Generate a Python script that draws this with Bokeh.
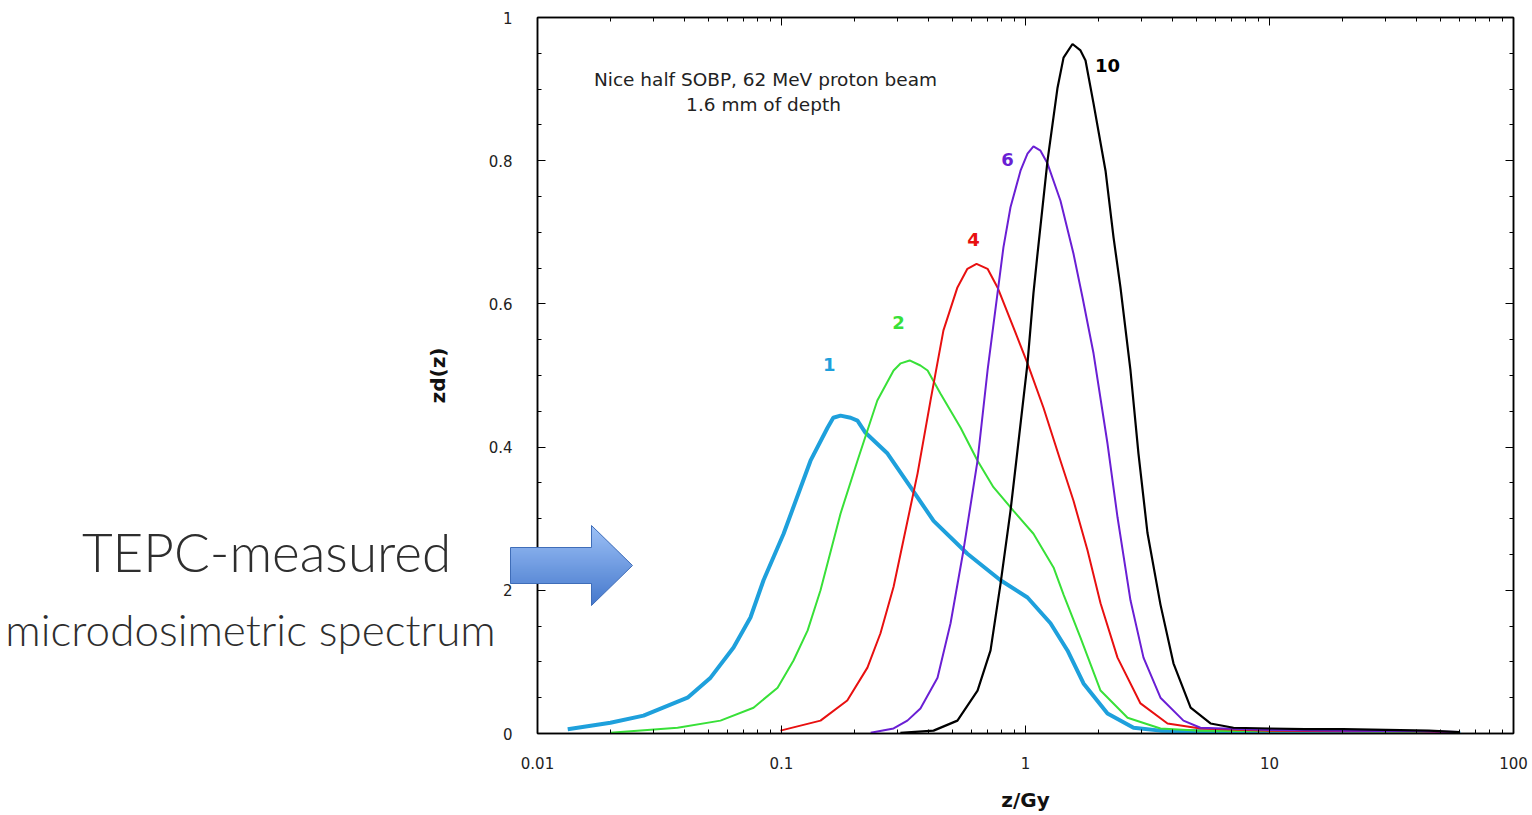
from bokeh.plotting import figure
from bokeh.models import Range1d, LogAxis, LinearAxis, FixedTicker, Label, CustomJSTickFormatter
from bokeh.core.properties import value
from bokeh.embed import file_html
from bokeh.resources import INLINE

# --- microdosimetric spectra zd(z) vs specific energy z (Gy) ---
blue_z = [0.0133, 0.0199, 0.0272, 0.0412, 0.0512, 0.0636, 0.0746, 0.0844, 0.102, 0.1315,
          0.1544, 0.163, 0.1745, 0.192, 0.2048, 0.221, 0.272, 0.338, 0.420, 0.578, 0.790,
          1.019, 1.266, 1.486, 1.729, 2.168, 2.772, 3.574, 5.21, 8.36, 13.4, 21.5, 34.4, 60.6]
blue_y = [0.006, 0.015, 0.025, 0.050, 0.078, 0.120, 0.162, 0.214, 0.279, 0.381,
          0.427, 0.441, 0.444, 0.441, 0.437, 0.420, 0.391, 0.344, 0.297, 0.251, 0.214,
          0.190, 0.154, 0.116, 0.070, 0.028, 0.008, 0.004, 0.003, 0.003, 0.003, 0.002, 0.002, 0.0]

green_z = [0.0199, 0.0375, 0.0562, 0.0768, 0.0964, 0.112, 0.128, 0.1445, 0.1745, 0.2048,
           0.247, 0.288, 0.308, 0.335, 0.371, 0.397, 0.448, 0.542, 0.636, 0.739, 0.893,
           1.078, 1.303, 1.432, 1.68, 2.03, 2.62, 3.574, 5.21, 10.0, 20.0, 40.0, 60.0]
green_y = [0.001, 0.008, 0.018, 0.036, 0.064, 0.102, 0.144, 0.200, 0.307, 0.381,
           0.465, 0.507, 0.517, 0.521, 0.514, 0.507, 0.475, 0.427, 0.381, 0.344, 0.311,
           0.279, 0.232, 0.194, 0.134, 0.060, 0.022, 0.007, 0.004, 0.003, 0.003, 0.002, 0.001]

red_z = [0.099, 0.1445, 0.186, 0.225, 0.2545, 0.288, 0.316, 0.361, 0.408, 0.461, 0.526,
         0.578, 0.630, 0.699, 0.768, 0.893, 1.019, 1.185, 1.391, 1.573, 1.795, 2.03, 2.383,
         2.96, 3.82, 5.21, 10.0, 20.0, 40.0, 60.0]
red_y = [0.004, 0.018, 0.046, 0.092, 0.140, 0.205, 0.270, 0.363, 0.465, 0.563, 0.623,
         0.649, 0.656, 0.649, 0.623, 0.567, 0.517, 0.455, 0.381, 0.325, 0.256, 0.182, 0.106,
         0.042, 0.014, 0.007, 0.004, 0.003, 0.003, 0.001]

purple_z = [0.232, 0.288, 0.328, 0.371, 0.436, 0.493, 0.557, 0.636, 0.699, 0.768, 0.812,
            0.868, 0.954, 1.019, 1.078, 1.152, 1.231, 1.391, 1.573, 1.713, 1.90, 2.168, 2.383,
            2.693, 3.045, 3.574, 4.44, 5.21, 10.0, 20.0, 40.0, 60.0]
purple_y = [0.001, 0.007, 0.018, 0.035, 0.078, 0.154, 0.256, 0.381, 0.507, 0.615, 0.679,
            0.735, 0.786, 0.810, 0.820, 0.814, 0.796, 0.744, 0.670, 0.609, 0.531, 0.405, 0.302,
            0.186, 0.106, 0.050, 0.018, 0.008, 0.005, 0.004, 0.003, 0.002]

black_z = [0.307, 0.420, 0.526, 0.636, 0.719, 0.790, 0.868, 0.927, 1.019, 1.078, 1.12,
           1.231, 1.353, 1.432, 1.558, 1.68, 1.762, 1.90, 2.128, 2.295, 2.45, 2.693, 2.904,
           3.162, 3.574, 4.04, 4.75, 5.73, 7.12, 10.0, 14.0, 20.0, 30.0, 45.0, 60.0]
black_y = [0.001, 0.004, 0.018, 0.060, 0.116, 0.209, 0.311, 0.395, 0.517, 0.615, 0.670,
           0.800, 0.902, 0.944, 0.963, 0.954, 0.940, 0.880, 0.786, 0.693, 0.623, 0.507, 0.391,
           0.280, 0.180, 0.098, 0.036, 0.014, 0.008, 0.007, 0.006, 0.006, 0.005, 0.004, 0.002]

series = [
    (blue_z, blue_y, "#1ea0dc", 4.0),
    (green_z, green_y, "#38e038", 2.0),
    (red_z, red_y, "#e81010", 2.0),
    (purple_z, purple_y, "#6a1fd4", 2.0),
    (black_z, black_y, "#000000", 2.2),
]

# curve tags
tag_text = ["1", "2", "4", "6", "10"]
tag_z = [0.157, 0.302, 0.612, 0.844, 2.168]
tag_y = [0.515, 0.574, 0.690, 0.802, 0.933]
tag_color = ["#1ea0dc", "#38e038", "#e81010", "#6a1fd4", "#000000"]

x_major_ticks = [0.01, 0.1, 1, 10, 100]
x_tick_labels = ["0.01", "0.1", "1", "10", "100"]
x_minor_ticks = [m * d for d in (0.01, 0.1, 1, 10) for m in range(2, 10)]

y_major_ticks = [0.0, 0.2, 0.4, 0.6, 0.8, 1.0]
y_tick_labels = ["0", "2", "0.4", "0.6", "0.8", "1"]
y_minor_ticks = [0.05, 0.1, 0.15, 0.25, 0.3, 0.35, 0.45, 0.5, 0.55,
                 0.65, 0.7, 0.75, 0.85, 0.9, 0.95]

FONT = "DejaVu Sans"
W, H = 1532, 815

p = figure(width=W, height=H, x_axis_type="log",
           x_range=Range1d(0.01, 100), y_range=Range1d(0, 1),
           output_backend="svg", toolbar_location=None,
           min_border_left=537, min_border_right=19,
           min_border_top=17, min_border_bottom=82)
p.xgrid.visible = False
p.ygrid.visible = False
p.outline_line_color = "black"
p.outline_line_width = 1.5

for zs, ys, col, w in series:
    p.line(zs, ys, line_color=col, line_width=w)

p.text(x=tag_z, y=tag_y, text=tag_text, text_color=tag_color,
       text_font=value(FONT), text_font_style="bold", text_font_size="18px",
       text_align="center", text_baseline="middle")


def style_axis(ax, show_labels=True):
    ax.axis_line_color = "black"
    ax.axis_line_width = 1.5
    ax.major_tick_line_color = "black"
    ax.minor_tick_line_color = "black"
    ax.major_tick_in = 8
    ax.major_tick_out = 0
    ax.minor_tick_in = 4
    ax.minor_tick_out = 0
    ax.major_label_text_font = FONT
    ax.major_label_text_font_size = "15px"
    ax.major_label_text_color = "#222222"
    if not show_labels:
        ax.formatter = CustomJSTickFormatter(code="return ''")
        ax.major_label_text_font_size = "1px"
        ax.major_label_standoff = 0


xax = p.xaxis[0]
xax.ticker = FixedTicker(ticks=x_major_ticks, minor_ticks=x_minor_ticks)
xax.major_label_overrides = dict(zip(x_major_ticks, x_tick_labels))
style_axis(xax)
xax.major_label_standoff = 23
xax.axis_label = "z/Gy"
xax.axis_label_text_font = FONT
xax.axis_label_text_font_style = "bold"
xax.axis_label_text_font_size = "20px"
xax.axis_label_text_color = "#111111"
xax.axis_label_standoff = 16

yax = p.yaxis[0]
yax.ticker = FixedTicker(ticks=y_major_ticks, minor_ticks=y_minor_ticks)
yax.major_label_overrides = dict(zip(y_major_ticks, y_tick_labels))
style_axis(yax)
yax.major_label_standoff = 25
yax.axis_label = "zd(z)"
yax.axis_label_text_font = FONT
yax.axis_label_text_font_style = "bold"
yax.axis_label_text_font_size = "20px"
yax.axis_label_text_color = "#111111"
yax.axis_label_standoff = 36

top = LogAxis(ticker=FixedTicker(ticks=x_major_ticks, minor_ticks=x_minor_ticks))
style_axis(top, show_labels=False)
p.add_layout(top, "above")
right = LinearAxis(ticker=FixedTicker(ticks=y_major_ticks, minor_ticks=y_minor_ticks))
style_axis(right, show_labels=False)
p.add_layout(right, "right")

# caption inside the frame (frame-relative screen units)
FX, FY = 537, 733
for txt, cx, cy in [("Nice half SOBP, 62 MeV proton beam", 765, 79),
                    ("1.6 mm of depth", 763, 104)]:
    p.add_layout(Label(x=cx - FX, y=FY - cy, x_units="screen", y_units="screen",
                       text=txt, text_font=FONT, text_font_size="18.5px",
                       text_color="#222222", text_align="center",
                       text_baseline="middle"))

# --- transparent overlay in page pixels: hand-written note and block arrow ---
q = figure(width=W, height=H, x_range=Range1d(0, W), y_range=Range1d(H, 0),
           output_backend="svg", toolbar_location=None, min_border=0,
           x_axis_location=None, y_axis_location=None)
q.grid.visible = False
q.outline_line_color = None
q.background_fill_color = None
q.border_fill_color = None
q.styles = {"position": "absolute", "left": "0px", "top": "0px"}

for txt, cx, by, size in [("TEPC-measured", 266, 551, "53px"),
                          ("microdosimetric  spectrum", 256, 628, "44px")]:
    q.text(x=[cx], y=[by], text=[txt], text_font=value("Lato Light"),
           text_font_size=value(size), text_color="#2e2e2e",
           text_align="center", text_baseline="alphabetic")

A_LEFT, S_TOP, S_BOT, H_X, H_TOP, H_BOT, TIP_X, MID = 510, 547, 583, 591, 525, 605, 632, 565


def right_edge(y):
    return TIP_X - (TIP_X - H_X) * abs(y - MID) / (H_BOT - MID)


def left_edge(y):
    return A_LEFT if S_TOP <= y <= S_BOT else H_X


def mix(c0, c1, t):
    return "#" + "".join(f"{round(a + (b - a) * t):02x}" for a, b in zip(c0, c1))


top_rgb, bot_rgb = (0x9c, 0xc0, 0xf6), (0x45, 0x78, 0xcc)
breaks = sorted(set(list(range(H_TOP, H_BOT + 1, 2)) + [S_TOP, S_BOT, MID]))
strip_xs, strip_ys, strip_cols = [], [], []
for y0, y1 in zip(breaks[:-1], breaks[1:]):
    ym = 0.5 * (y0 + y1)
    lx = left_edge(ym)
    if y0 < MID < y1:
        xs = [lx, right_edge(y0), TIP_X, right_edge(y1), lx]
        ys = [y0, y0, MID, y1 + 0.6, y1 + 0.6]
    else:
        xs = [lx, right_edge(y0), right_edge(y1 + 0.6), lx]
        ys = [y0, y0, y1 + 0.6, y1 + 0.6]
    strip_xs.append(xs)
    strip_ys.append(ys)
    strip_cols.append(mix(top_rgb, bot_rgb, (ym - H_TOP) / (H_BOT - H_TOP)))

q.patches(strip_xs, strip_ys, fill_color=strip_cols, line_color=None)
q.patch([A_LEFT, H_X, H_X, TIP_X, H_X, H_X, A_LEFT, A_LEFT],
        [S_TOP, S_TOP, H_TOP, MID, H_BOT, S_BOT, S_BOT, S_TOP],
        fill_color=None, line_color="#3f6db8", line_width=1)

open("out.html", "w").write(file_html([p, q], INLINE))
